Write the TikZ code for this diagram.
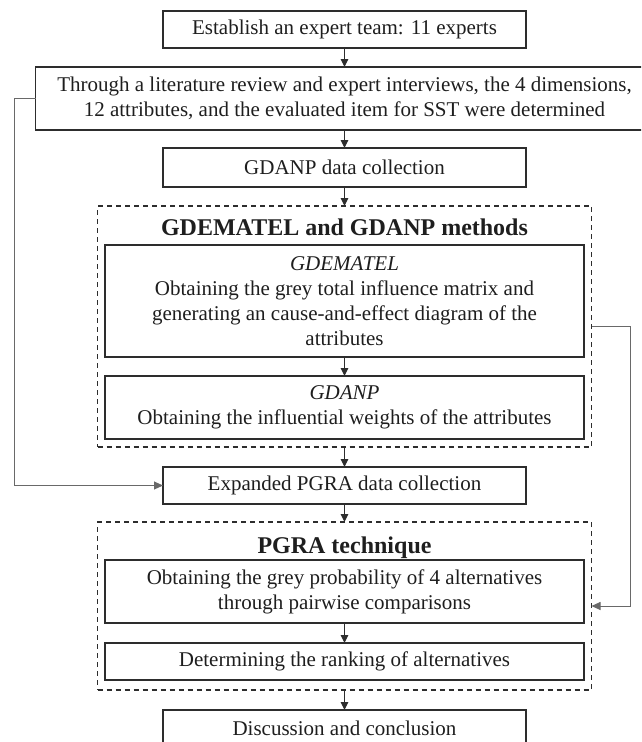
\documentclass[tikz,border=0pt]{standalone}
\usepackage{fontspec}
\setmainfont{Liberation Serif}
\usepackage{xcolor}
\usepackage{tikz}
\usetikzlibrary{arrows.meta,positioning,calc}
\definecolor{boxline}{RGB}{45,45,45}
\definecolor{busline}{RGB}{105,105,105}
\definecolor{inktext}{RGB}{30,30,30}
\tikzset{
    stepbox/.style={
        rectangle,
        draw=boxline,
        line width=1.3pt,
        align=center,
        text=inktext,
        inner sep=3pt,
        outer sep=0pt,
        font=\fontsize{21}{25}\selectfont
    },
    groupframe/.style={
        rectangle,
        draw=boxline,
        line width=1.3pt,
        outer sep=0pt,
        dash pattern=on 5pt off 4pt
    },
    grouptitle/.style={
        text=inktext,
        inner sep=0pt,
        font=\fontsize{24}{28}\selectfont\bfseries
    },
    flow/.style={
        draw=boxline,
        line width=1pt,
        -{Triangle[length=8pt,width=7.5pt]}
    },
    sideflow/.style={
        draw=busline,
        line width=0.9pt,
        -{Triangle[length=9pt,width=8pt]}
    }
}

\begin{document}
\begin{tikzpicture}
\clip (0,0) rectangle (641pt,-742pt);

% preparation
\node[stepbox, minimum width=363pt, minimum height=37pt] (team) at (344.5pt,-29.5pt) {Establish an expert team: 11 experts};
\node[stepbox, minimum width=618pt, minimum height=63pt, below=19pt of team] (lit) {Through a literature review and expert interviews, the 4 dimensions,\\12 attributes, and the evaluated item for SST were determined};
\node[stepbox, minimum width=363pt, minimum height=39pt, below=18pt of lit] (gdcollect) {GDANP data collection};

% GDEMATEL and GDANP
\node[groupframe, minimum width=494pt, minimum height=241pt, below=19pt of gdcollect] (gdframe) {};
\node[grouptitle, anchor=base] (gdtitle) at ($(gdframe.north)+(0,-29pt)$) {GDEMATEL and GDANP methods};
\node[stepbox, minimum width=479pt, minimum height=112pt, below=39pt of gdframe.north, anchor=north] (gdematel) {\textit{GDEMATEL}\\Obtaining the grey total influence matrix and\\generating an cause-and-effect diagram of the\\attributes};
\node[stepbox, minimum width=479pt, minimum height=63pt, below=19pt of gdematel] (gdanp) {\textit{GDANP}\\Obtaining the influential weights of the attributes};

% PGRA
\node[stepbox, minimum width=363pt, minimum height=37pt, below=20pt of gdframe] (pgracollect) {Expanded PGRA data collection};
\node[groupframe, minimum width=494pt, minimum height=168pt, below=18pt of pgracollect] (pgraframe) {};
\node[grouptitle, anchor=base] (pgratitle) at ($(pgraframe.north)+(0,-31pt)$) {PGRA technique};
\node[stepbox, minimum width=479pt, minimum height=63pt, below=38pt of pgraframe.north, anchor=north] (prob) {Obtaining the grey probability of 4 alternatives\\through pairwise comparisons};
\node[stepbox, minimum width=479pt, minimum height=37pt, below=20pt of prob] (ranking) {Determining the ranking of alternatives};

\node[stepbox, minimum width=363pt, minimum height=37pt, below=20pt of pgraframe] (discussion) {Discussion and conclusion};

% main flow
\draw[flow] (team) -- (lit);
\draw[flow] (lit) -- (gdcollect);
\draw[flow] (gdcollect) -- (gdframe);
\draw[flow] (gdematel) -- (gdanp);
\draw[flow] (gdframe) -- (pgracollect);
\draw[flow] (pgracollect) -- (pgraframe);
\draw[flow] (prob) -- (ranking);
\draw[flow] (pgraframe) -- (discussion);

% side links
\coordinate (leftbus) at (14pt,0);
\coordinate (rightbus) at (630pt,0);
\draw[sideflow] (lit.west) -- (lit.west -| leftbus) |- (pgracollect.west);
\draw[sideflow] (gdframe.east) -- (gdframe.east -| rightbus) |- (pgraframe.east);
\end{tikzpicture}
\end{document}
